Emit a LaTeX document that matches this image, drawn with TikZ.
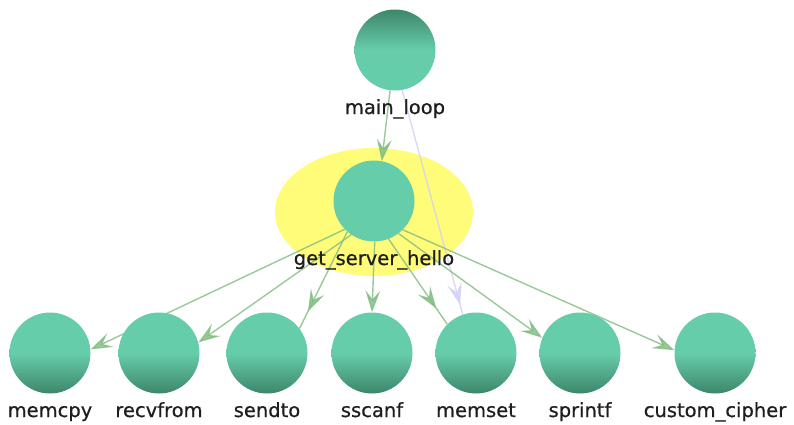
\documentclass[tikz,border=0pt]{standalone}
\usepackage{fontspec}
\setmainfont{DejaVu Sans}
\usetikzlibrary{arrows.meta,decorations.markings}

% Colours for functions, highlight and call edges
\definecolor{fnlight}{RGB}{102,205,170}
\definecolor{fndark}{RGB}{62,134,106}
\definecolor{hilite}{RGB}{255,252,122}
\definecolor{callgreen}{RGB}{128,188,128}
\definecolor{calllav}{RGB}{208,208,246}
\definecolor{fntext}{RGB}{30,30,30}

\pgfdeclarelayer{bg}
\pgfdeclarelayer{edges}
\pgfsetlayers{bg,edges,main}

\tikzset{
  fn/.style={circle, minimum size=81pt, inner sep=0pt},
  fntop/.style={fn, top color=fndark, bottom color=fnlight, middle color=fnlight},
  fnbot/.style={fn, top color=fnlight, bottom color=fndark, middle color=fnlight},
  fnflat/.style={fn, fill=fnlight},
  fnlabel/.style={text=fntext, font=\fontsize{19.5}{22}\selectfont\addfontfeatures{FakeBold=0.6},
    anchor=base, inner sep=0pt},
  call/.style={draw=callgreen, opacity=0.8, line width=1.4pt,
    -{Stealth[length=22pt, width=15pt, inset=9pt]}},
  callmid/.style={draw=callgreen, opacity=0.8, line width=1.4pt, postaction={decorate},
    decoration={markings, mark=at position -#1 with {\arrow{Stealth[length=22pt, width=15pt, inset=9pt]}}}},
  lavcall/.style={callmid=#1, draw=calllav},
}

\begin{document}
\begin{tikzpicture}[x=1pt, y=-1pt]
    \useasboundingbox (0,0) rectangle (794,424);

    % Highlight round the selected function
    \begin{pgfonlayer}{bg}
        \fill[hilite] (374,212) ellipse [x radius=99, y radius=64];
    \end{pgfonlayer}

    % Caller and selected function
    \node[fntop] (mainloop) at (395,50) {};
    \node[fnlabel] (mainloop-l) at (395,114) {main\_loop};
    \node[fnflat] (ghello) at (374,201) {};
    \node[fnlabel] (ghello-l) at (374,265) {get\_server\_hello};

    % Callees in one row
    \foreach \x/\name/\txt in {50/memcpy/memcpy, 159/recvfrom/recvfrom, 267/sendto/sendto,
        372/sscanf/sscanf, 476/memset/memset, 580/sprintf/sprintf, 715/cipher/custom\_cipher} {
        \node[fnbot] (\name) at (\x,353) {};
        \node[fnlabel] (\name-l) at (\x,417) {\txt};
    }

    % Call edges, under the nodes
    \begin{pgfonlayer}{edges}
        \draw[call] (mainloop.263) -- (ghello.79);
        \draw[lavcall=10pt] (mainloop.280) -- (memset.109);
        \draw[call] (ghello.224) -- (memcpy.5);
        \draw[call] (ghello.236) -- (recvfrom.15);
        \draw[callmid=19pt] (ghello.229) -- (sendto.37);
        \draw[call] (ghello.271) -- (sscanf.north);
        \draw[callmid=19pt] (ghello.291) -- (memset.135);
        \draw[call] (ghello.307) -- (sprintf.158);
        \draw[call] (ghello.315) -- (cipher.176);
    \end{pgfonlayer}
\end{tikzpicture}
\end{document}
